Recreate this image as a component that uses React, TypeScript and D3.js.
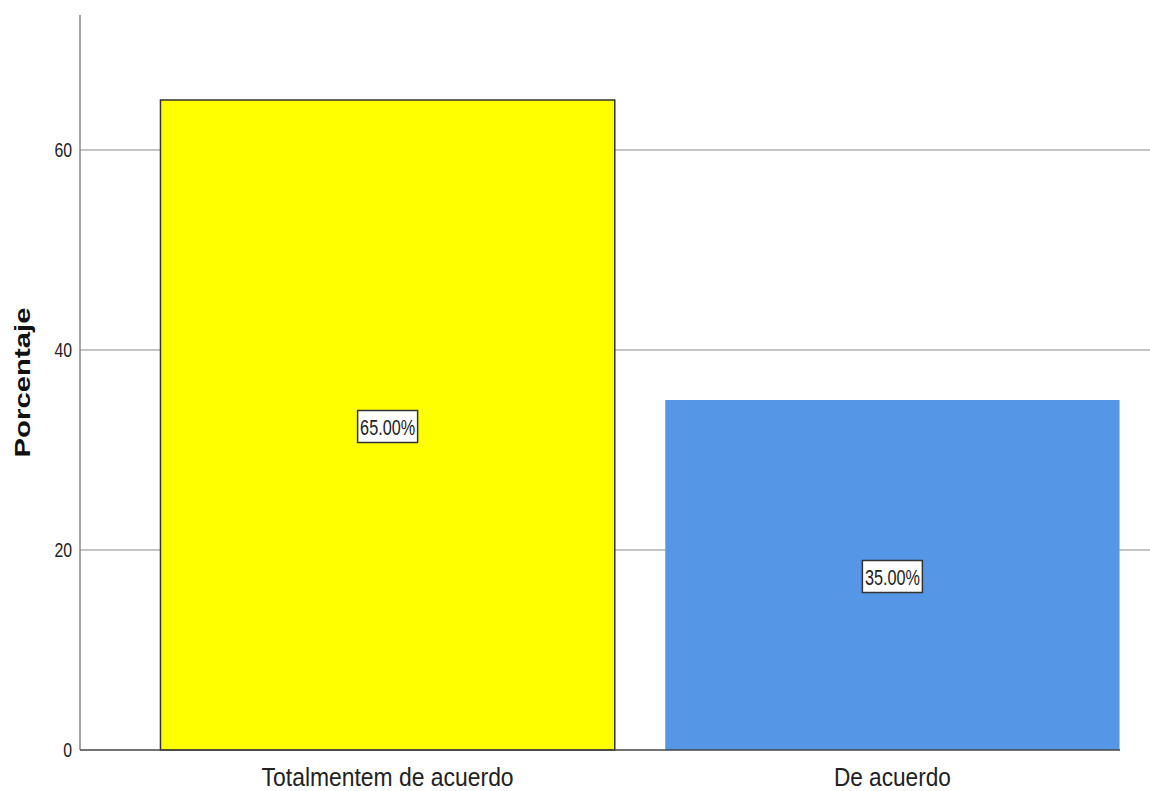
import { useEffect, useRef } from "react";
import * as d3 from "d3";

const CATEGORIES = ["Totalmentem de acuerdo", "De acuerdo"];
const VALUES = [65, 35];
const LABELS = ["65.00%", "35.00%"];
const COLORS = ["#ffff00", "#5596e6"];
const Y_TICKS = [0, 20, 40, 60];

const W = 1150;
const H = 791;
const FONT = "'Liberation Sans', Arial, sans-serif";

export default function App() {
  const ref = useRef<SVGSVGElement>(null);

  useEffect(() => {
    const svg = d3.select(ref.current);
    svg.selectAll("*").remove();

    const x = d3.scaleBand().domain(CATEGORIES).range([110, 1170]).paddingInner(0.1).paddingOuter(0.1);
    const y = d3.scaleLinear().domain([0, 73.5]).range([750, 15]);
    const x0 = 80;

    // grid lines
    Y_TICKS.filter((t) => t > 0).forEach((t) => {
      svg.append("line")
        .attr("x1", x0).attr("x2", W)
        .attr("y1", y(t)).attr("y2", y(t))
        .attr("stroke", "#c4c4c4").attr("stroke-width", 2);
    });

    // bars
    CATEGORIES.forEach((c, i) => {
      svg.append("rect")
        .attr("x", x(c)!)
        .attr("y", y(VALUES[i]))
        .attr("width", x.bandwidth())
        .attr("height", y(0) - y(VALUES[i]))
        .attr("fill", COLORS[i])
        .attr("stroke", i === 0 ? "#333" : "none")
        .attr("stroke-width", 1.5);
    });

    // axes
    svg.append("line")
      .attr("x1", x0).attr("x2", x0).attr("y1", y(73.5)).attr("y2", y(0))
      .attr("stroke", "#888").attr("stroke-width", 1.5);
    svg.append("line")
      .attr("x1", x0).attr("x2", x.range()[1] - 50).attr("y1", y(0)).attr("y2", y(0))
      .attr("stroke", "#444").attr("stroke-width", 1.5);

    // y tick labels (condensed look via textLength)
    Y_TICKS.forEach((t) => {
      const s = String(t);
      svg.append("text")
        .attr("x", 72).attr("y", y(t) + 7)
        .attr("text-anchor", "end")
        .attr("font-family", FONT).attr("font-size", 20).attr("fill", "#222")
        .attr("textLength", s.length * 8.8).attr("lengthAdjust", "spacingAndGlyphs")
        .text(s);
    });

    // y title
    svg.append("text")
      .attr("transform", `translate(30,${(y(0) + y(73.5)) / 2}) rotate(-90)`)
      .attr("text-anchor", "middle")
      .attr("font-family", FONT)
      .attr("font-size", 22).attr("font-weight", "bold").attr("fill", "#111")
      .attr("textLength", 150).attr("lengthAdjust", "spacingAndGlyphs")
      .text("Porcentaje");

    // category labels
    const catWidths = [252, 117];
    CATEGORIES.forEach((c, i) => {
      svg.append("text")
        .attr("x", x(c)! + x.bandwidth() / 2).attr("y", 786)
        .attr("text-anchor", "middle")
        .attr("font-family", FONT).attr("font-size", 25).attr("fill", "#222")
        .attr("textLength", catWidths[i]).attr("lengthAdjust", "spacingAndGlyphs")
        .text(c);
    });

    // value labels
    CATEGORIES.forEach((c, i) => {
      const cx = x(c)! + x.bandwidth() / 2;
      const cy = y(VALUES[i] / 2) + 1.5;
      const g = svg.append("g").attr("transform", `translate(${cx},${cy})`);
      g.append("rect")
        .attr("x", -30).attr("y", -16).attr("width", 60).attr("height", 32)
        .attr("fill", "white").attr("stroke", "#333").attr("stroke-width", 1.5);
      g.append("text")
        .attr("text-anchor", "middle").attr("y", 8)
        .attr("font-family", FONT).attr("font-size", 22).attr("fill", "#222")
        .attr("textLength", 55).attr("lengthAdjust", "spacingAndGlyphs")
        .text(LABELS[i]);
    });
  }, []);

  return (
    <svg
      ref={ref}
      width={W}
      height={H}
      style={{ position: "absolute", left: 0, top: 0, background: "white" }}
    />
  );
}
